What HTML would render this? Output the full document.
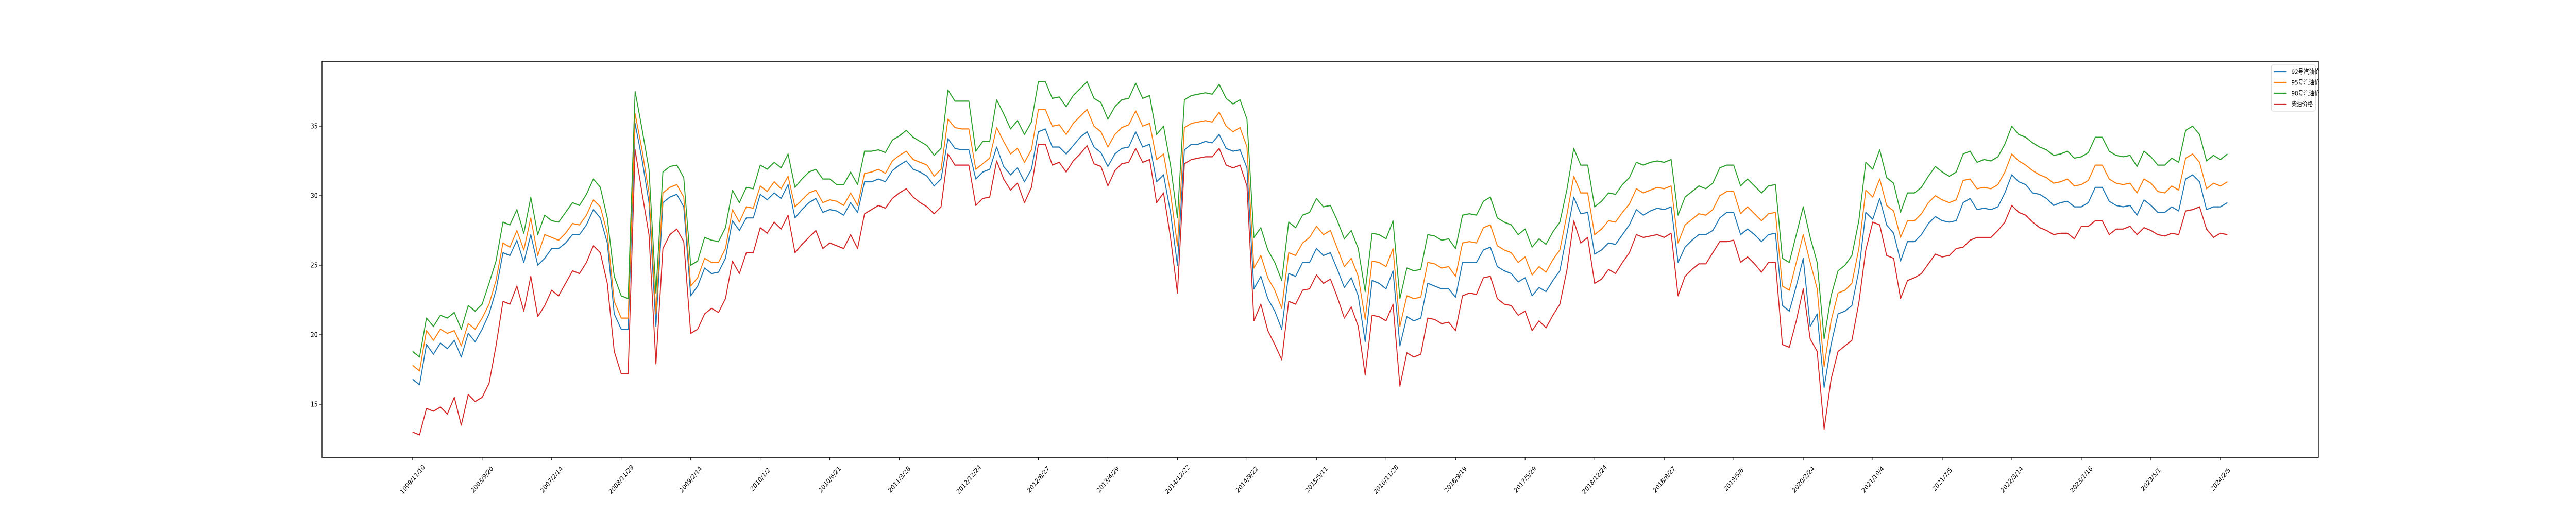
<!DOCTYPE html>
<html><head><meta charset="utf-8">
<style>
html,body{margin:0;padding:0;background:#fff;overflow:hidden;width:100%;height:100%;}
svg{display:block;width:100vw;height:100vh;font-family:"DejaVu Sans","Liberation Sans","Noto Sans CJK SC",sans-serif;}
</style></head>
<body>
<svg id="chart" viewBox="0 0 6000 1000" preserveAspectRatio="none" xmlns="http://www.w3.org/2000/svg">
<rect x="0" y="0" width="6000" height="1000" fill="#fff"/>
<g id="plot"></g>
<rect x="750" y="119" width="4650" height="769" fill="none" stroke="#000" stroke-width="1.6"/>
<g id="xaxis"></g>
<g id="yaxis"></g>
<g id="legend">
<rect x="5290" y="126" width="103" height="90" rx="4" fill="#fff" fill-opacity="0.8" stroke="#d0d0d0"/>
</g>
</svg>
<script>
const tickLabels = ["1999/11/10","2003/9/20","2007/2/14","2008/11/29","2009/2/14","2010/1/2","2010/6/21","2011/3/28","2012/12/24","2012/8/27","2013/4/29","2014/12/22","2014/9/22","2015/5/11","2016/11/28","2016/9/19","2017/5/29","2018/12/24","2018/8/27","2019/5/6","2020/2/24","2021/10/4","2021/7/5","2022/3/14","2023/1/16","2023/5/1","2024/2/5"];
const yTicks = [15,20,25,30,35];
const seriesNames = ["92号汽油价","95号汽油价","98号汽油价","柴油价格"];
const seriesColors = ["#1f77b4","#ff7f0e","#2ca02c","#d62728"];
const p92 = [16.8,16.4,19.3,18.6,19.4,19.0,19.6,18.4,20.1,19.5,20.4,21.5,23.2,25.9,25.7,26.8,25.2,27.2,25.0,25.5,26.2,26.2,26.6,27.2,27.2,27.9,29.0,28.4,26.6,21.5,20.4,20.4,35.2,32.6,29.5,20.6,29.5,29.9,30.1,29.2,22.8,23.5,24.8,24.4,
24.5,25.5,28.2,27.5,28.4,28.4,30.1,29.7,30.2,29.8,30.8,28.4,29.0,29.5,29.8,28.8,29.0,28.9,28.6,29.5,28.8,31.0,31.0,31.2,31.0,31.8,32.2,32.5,31.9,31.7,31.4,30.7,31.2,34.1,33.4,33.3,33.3,31.2,31.7,31.9,33.5,32.1,31.5,32.0,
31.0,31.9,34.6,34.8,33.5,33.5,33.0,33.6,34.2,34.6,33.5,33.1,32.1,33.0,33.4,33.5,34.6,33.5,33.7,31.0,31.5,28.8,25.0,33.3,33.7,33.7,33.9,33.8,34.4,33.4,33.2,33.3,32.0,23.3,24.2,22.6,21.7,20.4,24.4,24.2,25.2,25.2,26.2,25.7,
25.9,24.7,23.4,24.1,22.8,19.5,23.9,23.7,23.3,24.6,19.2,21.3,21.0,21.2,23.7,23.5,23.3,23.3,22.7,25.2,25.2,25.2,26.1,26.3,24.9,24.6,24.4,23.8,24.1,22.8,23.4,23.1,23.9,24.6,27.2,29.9,28.7,28.8,25.8,26.1,26.6,26.5,27.2,27.9,
29.0,28.6,28.9,29.1,29.0,29.2,25.2,26.3,26.8,27.2,27.2,27.5,28.4,28.8,28.8,27.2,27.6,27.2,26.7,27.2,27.3,22.1,21.7,23.5,25.5,20.6,21.5,16.2,19.3,21.5,21.7,22.1,24.6,28.8,28.3,29.8,27.9,27.3,25.3,26.7,26.7,27.2,28.0,28.5,
28.2,28.1,28.2,29.5,29.8,29.0,29.1,29.0,29.2,30.2,31.5,31.0,30.8,30.2,30.1,29.8,29.3,29.5,29.6,29.2,29.2,29.5,30.6,30.6,29.6,29.3,29.2,29.3,28.6,29.7,29.3,28.8,28.8,29.2,28.9,31.2,31.5,31.0,29.0,29.2,29.2,29.5];
const p95 = [17.8,17.4,20.3,19.6,20.4,20.1,20.3,19.2,20.8,20.4,21.2,22.2,23.9,26.6,26.3,27.5,26.1,28.4,25.7,27.2,27.0,26.8,27.3,28.0,27.9,28.6,29.7,29.2,27.3,22.4,21.2,21.2,35.9,33.3,30.2,21.5,30.2,30.6,30.8,29.9,23.5,24.1,25.5,25.2,
25.2,26.2,29.0,28.1,29.2,29.1,30.7,30.3,31.0,30.5,31.4,29.2,29.7,30.2,30.4,29.5,29.7,29.6,29.3,30.2,29.3,31.6,31.7,31.9,31.6,32.5,32.9,33.2,32.6,32.4,32.2,31.4,31.9,35.5,34.9,34.8,34.8,31.9,32.3,32.7,34.9,33.9,33.0,33.4,
32.4,33.3,36.2,36.2,35.0,35.1,34.4,35.2,35.7,36.2,35.0,34.6,33.5,34.4,34.9,35.1,36.1,35.0,35.2,32.6,33.0,30.2,26.4,34.9,35.2,35.3,35.4,35.3,36.0,35.0,34.6,34.9,33.5,24.8,25.7,24.1,23.2,21.9,25.9,25.7,26.6,27.0,27.8,27.2,
27.5,26.2,24.9,25.5,24.2,21.1,25.3,25.2,24.9,26.2,20.6,22.8,22.6,22.7,25.2,25.1,24.8,24.9,24.2,26.6,26.7,26.6,27.7,27.9,26.4,26.1,25.9,25.2,25.6,24.3,24.9,24.5,25.4,26.1,28.6,31.4,30.2,30.2,27.2,27.6,28.2,28.1,28.8,29.4,
30.5,30.2,30.4,30.6,30.5,30.7,26.6,27.9,28.3,28.7,28.6,29.0,30.0,30.3,30.3,28.7,29.2,28.7,28.2,28.7,28.8,23.5,23.2,25.2,27.2,25.2,23.3,17.7,21.0,23.0,23.2,23.7,26.2,30.4,29.9,31.2,29.3,28.9,27.0,28.2,28.2,28.7,29.5,30.0,
29.7,29.5,29.7,31.1,31.2,30.5,30.6,30.5,30.8,31.7,33.0,32.5,32.2,31.8,31.5,31.3,30.9,31.0,31.2,30.7,30.8,31.1,32.2,32.2,31.2,30.9,30.8,30.9,30.2,31.2,30.9,30.3,30.2,30.7,30.4,32.7,33.0,32.4,30.5,30.9,30.7,31.0];
const p98 = [18.8,18.4,21.2,20.6,21.4,21.2,21.6,20.4,22.1,21.7,22.2,23.7,25.3,28.1,27.9,29.0,27.3,29.9,27.2,28.6,28.2,28.1,28.8,29.5,29.3,30.1,31.2,30.6,28.4,24.2,22.8,22.6,37.5,34.8,31.9,23.0,31.7,32.1,32.2,31.3,25.0,25.3,27.0,26.8,
26.7,27.7,30.4,29.5,30.6,30.5,32.2,31.9,32.4,32.0,33.0,30.6,31.2,31.7,31.9,31.2,31.2,30.8,30.8,31.7,30.8,33.2,33.2,33.3,33.1,34.0,34.3,34.7,34.2,33.9,33.6,32.9,33.4,37.6,36.8,36.8,36.8,33.2,33.9,33.9,36.9,35.9,34.8,35.4,
34.4,35.3,38.2,38.2,37.0,37.1,36.4,37.2,37.7,38.2,37.0,36.7,35.5,36.4,36.9,37.0,38.1,37.0,37.2,34.4,35.0,32.2,28.4,36.9,37.2,37.3,37.4,37.3,38.0,37.0,36.6,36.9,35.5,27.0,27.7,26.1,25.2,23.9,28.1,27.7,28.6,28.8,29.8,29.2,
29.3,28.2,26.9,27.5,26.2,23.1,27.3,27.2,26.9,28.2,22.6,24.8,24.6,24.7,27.2,27.1,26.8,26.9,26.2,28.6,28.7,28.6,29.6,29.9,28.4,28.1,27.9,27.2,27.6,26.3,26.9,26.5,27.4,28.1,30.4,33.4,32.2,32.2,29.2,29.6,30.2,30.1,30.8,31.3,
32.4,32.2,32.4,32.5,32.4,32.6,28.6,29.9,30.3,30.7,30.5,30.9,32.0,32.2,32.2,30.7,31.2,30.7,30.2,30.7,30.8,25.5,25.2,27.2,29.2,27.0,25.2,19.7,22.8,24.6,25.0,25.7,28.2,32.4,31.9,33.3,31.3,30.9,28.8,30.2,30.2,30.6,31.4,32.1,
31.7,31.4,31.7,33.0,33.2,32.4,32.6,32.5,32.8,33.7,35.0,34.4,34.2,33.8,33.5,33.3,32.9,33.0,33.2,32.7,32.8,33.1,34.2,34.2,33.2,32.9,32.8,32.9,32.1,33.2,32.8,32.2,32.2,32.7,32.4,34.7,35.0,34.4,32.5,32.9,32.6,33.0];
const diesel = [13.0,12.8,14.7,14.5,14.8,14.3,15.5,13.5,15.7,15.2,15.5,16.5,19.2,22.4,22.2,23.5,21.7,24.2,21.3,22.1,23.2,22.8,23.7,24.6,24.4,25.2,26.4,25.9,23.7,18.8,17.2,17.2,33.3,30.2,27.2,17.9,26.2,27.2,27.6,26.7,20.1,20.4,21.5,21.9,
21.6,22.6,25.3,24.4,25.9,25.9,27.7,27.3,28.1,27.6,28.6,25.9,26.5,27.0,27.5,26.2,26.6,26.4,26.2,27.2,26.2,28.7,29.0,29.3,29.1,29.8,30.2,30.5,29.9,29.5,29.2,28.7,29.2,33.0,32.2,32.2,32.2,29.3,29.8,29.9,32.5,31.2,30.4,30.9,
29.5,30.6,33.7,33.7,32.2,32.4,31.7,32.5,33.0,33.6,32.3,32.1,30.7,31.8,32.3,32.4,33.4,32.4,32.6,29.5,30.2,27.0,23.0,32.3,32.6,32.7,32.8,32.8,33.4,32.2,32.0,32.2,30.7,21.0,22.2,20.3,19.3,18.2,22.4,22.2,23.2,23.3,24.3,23.7,
24.0,22.7,21.2,22.0,20.6,17.1,21.4,21.3,21.0,22.2,16.3,18.7,18.4,18.6,21.2,21.1,20.8,20.9,20.3,22.8,23.0,22.9,24.1,24.2,22.6,22.2,22.1,21.4,21.7,20.3,21.0,20.5,21.4,22.2,24.6,28.2,26.6,27.0,23.7,24.0,24.7,24.4,25.2,25.9,
27.2,27.0,27.1,27.2,27.0,27.3,22.8,24.2,24.7,25.1,25.1,25.9,26.7,26.7,26.8,25.2,25.6,25.1,24.5,25.2,25.2,19.3,19.1,21.0,23.3,19.7,18.8,13.2,16.8,18.8,19.2,19.6,22.3,26.1,28.1,27.9,25.7,25.5,22.6,23.9,24.1,24.4,25.1,25.8,
25.6,25.7,26.2,26.3,26.8,27.0,27.0,27.0,27.5,28.1,29.3,28.8,28.6,28.1,27.7,27.5,27.2,27.3,27.3,26.9,27.8,27.8,28.2,28.2,27.2,27.6,27.6,27.8,27.2,27.7,27.5,27.2,27.1,27.3,27.2,28.9,29.0,29.2,27.6,27.0,27.3,27.2];

const NS = "http://www.w3.org/2000/svg";
const X0 = 961, X1 = 5188, Y15 = 785, PXPERUNIT = 27;
const N = p92.length;
function xScale(i){ return X0 + (X1 - X0) * i / (N - 1); }
function yScale(v){ return Y15 - (v - 15) * PXPERUNIT; }
function mk(tag, attrs, parent){ const e = document.createElementNS(NS, tag); for (const k in attrs) e.setAttribute(k, attrs[k]); parent.appendChild(e); return e; }

const plot = document.getElementById('plot');
const allSeries = [p92, p95, p98, diesel];
const seriesKeys = ['series-92','series-95','series-98','series-diesel'];
allSeries.forEach((data, s) => {
  const d = data.map((v, i) => (i ? 'L' : 'M') + xScale(i).toFixed(1) + ',' + yScale(v).toFixed(1)).join(' ');
  const p = mk('path', {d: d, fill: 'none', stroke: seriesColors[s], 'stroke-width': 2.2, 'stroke-linejoin': 'round'}, plot);
  
  
});

const xaxis = document.getElementById('xaxis');
tickLabels.forEach((lab, k) => {
  const x = xScale(k * 10);
  const t = mk('line', {x1: x, x2: x, y1: 888, y2: 894, stroke: '#000', 'stroke-width': 1.2}, xaxis);
  
  
  const tx = mk('text', {x: x, y: 931, 'font-size': 13, 'text-anchor': 'middle', 'dominant-baseline': 'central', transform: 'rotate(-45 ' + x + ' 931)', fill: '#000'}, xaxis);
  tx.textContent = lab;
  
  
});

const yaxis = document.getElementById('yaxis');
yTicks.forEach(v => {
  const y = yScale(v);
  const t = mk('line', {x1: 744, x2: 750, y1: y, y2: y, stroke: '#000', 'stroke-width': 1.2}, yaxis);
  
  
  const tx = mk('text', {x: 740, y: y + 4.5, 'font-size': 13, 'text-anchor': 'end', fill: '#000'}, yaxis);
  tx.textContent = String(v);
  
  
});

const legend = document.getElementById('legend');
seriesNames.forEach((nm, s) => {
  const y = 139 + s * 21;
  const l = mk('line', {x1: 5296, x2: 5326, y1: y, y2: y, stroke: seriesColors[s], 'stroke-width': 2.2}, legend);
  
  
  const tx = mk('text', {x: 5337, y: y + 4.5, 'font-size': 12.5, fill: '#000'}, legend);
  tx.textContent = nm;
  
  
});
</script>
</body></html>
